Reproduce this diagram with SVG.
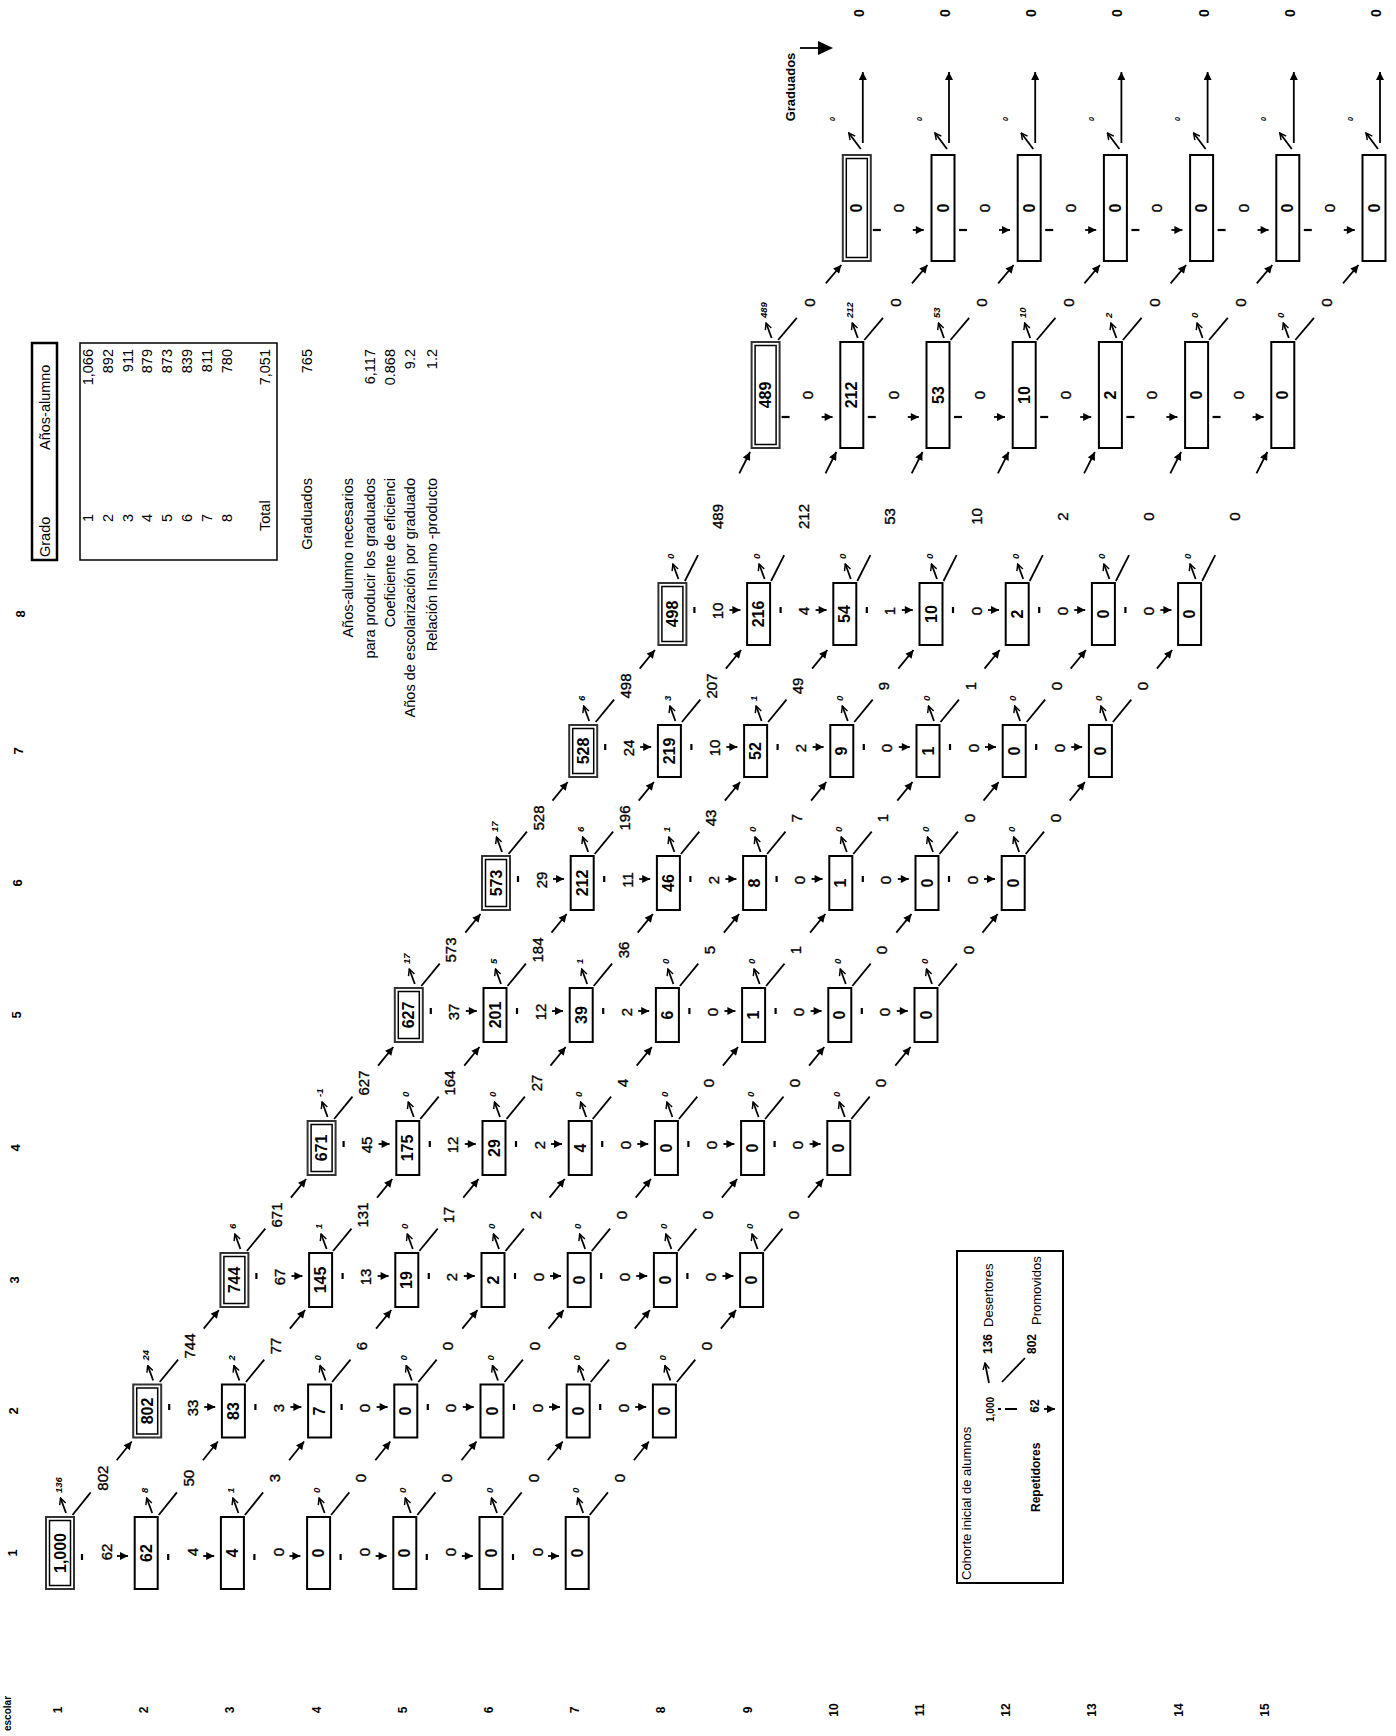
<svg xmlns="http://www.w3.org/2000/svg" width="1396" height="1736" viewBox="0 0 1396 1736">
<style>
text{font-family:'Liberation Sans',Arial,sans-serif;fill:#000}
.v{font-size:16px;font-weight:bold;text-anchor:middle;dominant-baseline:central}
.f{font-size:15px;text-anchor:middle;dominant-baseline:central;stroke:#000;stroke-width:0.35px}
.d{font-size:9.5px;font-style:italic;font-weight:bold;dominant-baseline:central}
.dm{font-size:7px;font-style:italic;font-weight:bold;text-anchor:middle;dominant-baseline:central}
.g{font-size:14px;font-weight:bold;text-anchor:middle;dominant-baseline:central}
.y{font-size:12px;font-weight:bold;text-anchor:middle;dominant-baseline:central}
.t{font-size:14.5px;dominant-baseline:central}
.te{font-size:14.5px;text-anchor:end;dominant-baseline:central}
.tm{font-size:14.5px;text-anchor:middle;dominant-baseline:central}
.bx{fill:#fff;stroke:#000;stroke-width:2}
.bo{fill:#fff;stroke:#333;stroke-width:2}
.bi{fill:none;stroke:#000;stroke-width:1.5}
.ln{fill:none;stroke:#000;stroke-width:1.8}
.tk{fill:none;stroke:#000;stroke-width:2.2}
</style>
<defs>
<marker id="ah" viewBox="0 0 10 10" refX="10" refY="5" markerWidth="9" markerHeight="8" markerUnits="userSpaceOnUse" orient="auto"><path d="M0,0L10,5L0,10z"/></marker>
<marker id="oh" viewBox="0 0 10 10" refX="9" refY="5" markerWidth="8" markerHeight="8" markerUnits="userSpaceOnUse" orient="auto"><path d="M1,1L9,5L1,9" fill="none" stroke="#000" stroke-width="1.8"/></marker>
<rect id="s36" class="bx" x="-11.5" y="-36" width="23" height="72"/>
<g id="w36"><rect class="bo" x="-14" y="-36" width="28" height="72"/><rect class="bi" x="-10.5" y="-32.5" width="21" height="65"/></g>
<rect id="s265" class="bx" x="-11.5" y="-26.5" width="23" height="53"/>
<g id="w265"><rect class="bo" x="-14" y="-26.5" width="28" height="53"/><rect class="bi" x="-10.5" y="-23" width="21" height="46"/></g>
<rect id="s27" class="bx" x="-11.5" y="-27" width="23" height="54"/>
<g id="w27"><rect class="bo" x="-14" y="-27" width="28" height="54"/><rect class="bi" x="-10.5" y="-23.5" width="21" height="47"/></g>
<rect id="s26" class="bx" x="-11.5" y="-26" width="23" height="52"/>
<g id="w26"><rect class="bo" x="-14" y="-26" width="28" height="52"/><rect class="bi" x="-10.5" y="-22.5" width="21" height="45"/></g>
<rect id="s31" class="bx" x="-11.5" y="-31" width="23" height="62"/>
<g id="w31"><rect class="bo" x="-14" y="-31" width="28" height="62"/><rect class="bi" x="-10.5" y="-27.5" width="21" height="55"/></g>
<rect id="s53" class="bx" x="-11.5" y="-53" width="23" height="106"/>
<g id="w53"><rect class="bo" x="-14" y="-53" width="28" height="106"/><rect class="bi" x="-10.5" y="-49.5" width="21" height="99"/></g>
<path id="dr" class="ln" d="M6,-4L0.5,-19" marker-end="url(#oh)"/>
<path id="drT" class="ln" d="M4,-6L-8,-22" marker-end="url(#oh)"/>
<g id="r1"><path class="tk" d="M22,1v6"/><path class="ln" d="M57,3H68" marker-end="url(#ah)"/></g>
<g id="r"><path class="tk" d="M22,-7v6"/><path class="ln" d="M57,-4H68" marker-end="url(#ah)"/></g>
<g id="rR"><path class="tk" d="M16,22H24"/><path class="ln" d="M56,22H67" marker-end="url(#ah)"/></g>
<g id="p1"><path class="ln" d="M12.5,-38L30.7,-60.6"/><path class="ln" d="M56.7,-92.8L71.7,-111.5" marker-end="url(#ah)"/></g>
<g id="ps"><path class="ln" d="M12.5,-29L30.9,-51.4"/><path class="ln" d="M56.5,-82.4L71.7,-101" marker-end="url(#ah)"/></g>
<g id="p8"><path class="ln" d="M12.5,-33L25.6,-58.9"/><path class="ln" d="M66.9,-140.6L77.7,-162" marker-end="url(#ah)"/></g>
<g id="pg"><path class="ln" d="M12.5,-55L31.2,-77.2"/><path class="ln" d="M60.2,-111.6L75.7,-130" marker-end="url(#ah)"/></g>
<path id="up" class="ln" d="M6,-65V-136" marker-end="url(#ah)"/>
<g id="k1"><use href="#dr" y="-36"/><use href="#r1"/><use href="#p1"/></g>
<g id="k1e"><use href="#dr" y="-36"/><use href="#p1"/></g>
<g id="k2"><use href="#dr" y="-26.5"/><use href="#r"/><use href="#ps"/></g>
<g id="k2e"><use href="#dr" y="-26.5"/><use href="#ps"/></g>
<g id="k3"><use href="#dr" y="-27"/><use href="#r"/><use href="#ps"/></g>
<g id="k3e"><use href="#dr" y="-27"/><use href="#ps"/></g>
<g id="k7"><use href="#dr" y="-26"/><use href="#r"/><use href="#ps"/></g>
<g id="k7e"><use href="#dr" y="-26"/><use href="#ps"/></g>
<g id="k8"><use href="#dr" y="-31"/><use href="#r"/><use href="#p8"/></g>
<g id="k8e"><use href="#dr" y="-31"/><use href="#p8"/></g>
<g id="kR"><use href="#dr" y="-53"/><use href="#rR"/><use href="#pg"/></g>
<g id="kRe"><use href="#dr" y="-53"/><use href="#pg"/></g>
<g id="kT"><use href="#drT" y="-53"/><use href="#rR"/><use href="#up"/></g>
<g id="kTe"><use href="#drT" y="-53"/><use href="#up"/></g>
</defs>
<rect width="1396" height="1736" fill="#fff"/>

<g id="nodes">
<g transform="translate(2,0)">
<g id="n1-1" transform="translate(58,1553)"><use href="#w36"/><text class="v" transform="rotate(-90)">1,000</text></g>
<g id="n1-2" transform="translate(144.2,1553)"><use href="#s36"/><text class="v" transform="rotate(-90)">62</text></g>
<g id="n1-3" transform="translate(230.4,1553)"><use href="#s36"/><text class="v" transform="rotate(-90)">4</text></g>
<g id="n1-4" transform="translate(316.6,1553)"><use href="#s36"/><text class="v" transform="rotate(-90)">0</text></g>
<g id="n1-5" transform="translate(402.8,1553)"><use href="#s36"/><text class="v" transform="rotate(-90)">0</text></g>
<g id="n1-6" transform="translate(489,1553)"><use href="#s36"/><text class="v" transform="rotate(-90)">0</text></g>
<g id="n1-7" transform="translate(575.2,1553)"><use href="#s36"/><text class="v" transform="rotate(-90)">0</text></g>
</g>
<g transform="translate(3,0)">
<g id="n2-2" transform="translate(144.2,1411)"><use href="#w265"/><text class="v" transform="rotate(-90)">802</text></g>
<g id="n2-3" transform="translate(230.4,1411)"><use href="#s265"/><text class="v" transform="rotate(-90)">83</text></g>
<g id="n2-4" transform="translate(316.6,1411)"><use href="#s265"/><text class="v" transform="rotate(-90)">7</text></g>
<g id="n2-5" transform="translate(402.8,1411)"><use href="#s265"/><text class="v" transform="rotate(-90)">0</text></g>
<g id="n2-6" transform="translate(489,1411)"><use href="#s265"/><text class="v" transform="rotate(-90)">0</text></g>
<g id="n2-7" transform="translate(575.2,1411)"><use href="#s265"/><text class="v" transform="rotate(-90)">0</text></g>
<g id="n2-8" transform="translate(661.4,1411)"><use href="#s265"/><text class="v" transform="rotate(-90)">0</text></g>
</g>
<g transform="translate(4,0)">
<g id="n3-3" transform="translate(230.4,1280)"><use href="#w27"/><text class="v" transform="rotate(-90)">744</text></g>
<g id="n3-4" transform="translate(316.6,1280)"><use href="#s27"/><text class="v" transform="rotate(-90)">145</text></g>
<g id="n3-5" transform="translate(402.8,1280)"><use href="#s27"/><text class="v" transform="rotate(-90)">19</text></g>
<g id="n3-6" transform="translate(489,1280)"><use href="#s27"/><text class="v" transform="rotate(-90)">2</text></g>
<g id="n3-7" transform="translate(575.2,1280)"><use href="#s27"/><text class="v" transform="rotate(-90)">0</text></g>
<g id="n3-8" transform="translate(661.4,1280)"><use href="#s27"/><text class="v" transform="rotate(-90)">0</text></g>
<g id="n3-9" transform="translate(747.6,1280)"><use href="#s27"/><text class="v" transform="rotate(-90)">0</text></g>
</g>
<g transform="translate(5,0)">
<g id="n4-4" transform="translate(316.6,1148)"><use href="#w27"/><text class="v" transform="rotate(-90)">671</text></g>
<g id="n4-5" transform="translate(402.8,1148)"><use href="#s27"/><text class="v" transform="rotate(-90)">175</text></g>
<g id="n4-6" transform="translate(489,1148)"><use href="#s27"/><text class="v" transform="rotate(-90)">29</text></g>
<g id="n4-7" transform="translate(575.2,1148)"><use href="#s27"/><text class="v" transform="rotate(-90)">4</text></g>
<g id="n4-8" transform="translate(661.4,1148)"><use href="#s27"/><text class="v" transform="rotate(-90)">0</text></g>
<g id="n4-9" transform="translate(747.6,1148)"><use href="#s27"/><text class="v" transform="rotate(-90)">0</text></g>
<g id="n4-10" transform="translate(833.8,1148)"><use href="#s27"/><text class="v" transform="rotate(-90)">0</text></g>
</g>
<g transform="translate(6,0)">
<g id="n5-5" transform="translate(402.8,1015)"><use href="#w27"/><text class="v" transform="rotate(-90)">627</text></g>
<g id="n5-6" transform="translate(489,1015)"><use href="#s27"/><text class="v" transform="rotate(-90)">201</text></g>
<g id="n5-7" transform="translate(575.2,1015)"><use href="#s27"/><text class="v" transform="rotate(-90)">39</text></g>
<g id="n5-8" transform="translate(661.4,1015)"><use href="#s27"/><text class="v" transform="rotate(-90)">6</text></g>
<g id="n5-9" transform="translate(747.6,1015)"><use href="#s27"/><text class="v" transform="rotate(-90)">1</text></g>
<g id="n5-10" transform="translate(833.8,1015)"><use href="#s27"/><text class="v" transform="rotate(-90)">0</text></g>
<g id="n5-11" transform="translate(920,1015)"><use href="#s27"/><text class="v" transform="rotate(-90)">0</text></g>
</g>
<g transform="translate(7,0)">
<g id="n6-6" transform="translate(489,883)"><use href="#w27"/><text class="v" transform="rotate(-90)">573</text></g>
<g id="n6-7" transform="translate(575.2,883)"><use href="#s27"/><text class="v" transform="rotate(-90)">212</text></g>
<g id="n6-8" transform="translate(661.4,883)"><use href="#s27"/><text class="v" transform="rotate(-90)">46</text></g>
<g id="n6-9" transform="translate(747.6,883)"><use href="#s27"/><text class="v" transform="rotate(-90)">8</text></g>
<g id="n6-10" transform="translate(833.8,883)"><use href="#s27"/><text class="v" transform="rotate(-90)">1</text></g>
<g id="n6-11" transform="translate(920,883)"><use href="#s27"/><text class="v" transform="rotate(-90)">0</text></g>
<g id="n6-12" transform="translate(1006.2,883)"><use href="#s27"/><text class="v" transform="rotate(-90)">0</text></g>
</g>
<g transform="translate(8,0)">
<g id="n7-7" transform="translate(575.2,751)"><use href="#w26"/><text class="v" transform="rotate(-90)">528</text></g>
<g id="n7-8" transform="translate(661.4,751)"><use href="#s26"/><text class="v" transform="rotate(-90)">219</text></g>
<g id="n7-9" transform="translate(747.6,751)"><use href="#s26"/><text class="v" transform="rotate(-90)">52</text></g>
<g id="n7-10" transform="translate(833.8,751)"><use href="#s26"/><text class="v" transform="rotate(-90)">9</text></g>
<g id="n7-11" transform="translate(920,751)"><use href="#s26"/><text class="v" transform="rotate(-90)">1</text></g>
<g id="n7-12" transform="translate(1006.2,751)"><use href="#s26"/><text class="v" transform="rotate(-90)">0</text></g>
<g id="n7-13" transform="translate(1092.4,751)"><use href="#s26"/><text class="v" transform="rotate(-90)">0</text></g>
</g>
<g transform="translate(11,0)">
<g id="n8-8" transform="translate(661.4,614)"><use href="#w31"/><text class="v" transform="rotate(-90)">498</text></g>
<g id="n8-9" transform="translate(747.6,614)"><use href="#s31"/><text class="v" transform="rotate(-90)">216</text></g>
<g id="n8-10" transform="translate(833.8,614)"><use href="#s31"/><text class="v" transform="rotate(-90)">54</text></g>
<g id="n8-11" transform="translate(920,614)"><use href="#s31"/><text class="v" transform="rotate(-90)">10</text></g>
<g id="n8-12" transform="translate(1006.2,614)"><use href="#s31"/><text class="v" transform="rotate(-90)">2</text></g>
<g id="n8-13" transform="translate(1092.4,614)"><use href="#s31"/><text class="v" transform="rotate(-90)">0</text></g>
<g id="n8-14" transform="translate(1178.6,614)"><use href="#s31"/><text class="v" transform="rotate(-90)">0</text></g>
</g>
<g transform="translate(18,0)">
<g id="nR-9" transform="translate(747.6,395)"><use href="#w53"/><text class="v" transform="rotate(-90)">489</text></g>
<g id="nR-10" transform="translate(833.8,395)"><use href="#s53"/><text class="v" transform="rotate(-90)">212</text></g>
<g id="nR-11" transform="translate(920,395)"><use href="#s53"/><text class="v" transform="rotate(-90)">53</text></g>
<g id="nR-12" transform="translate(1006.2,395)"><use href="#s53"/><text class="v" transform="rotate(-90)">10</text></g>
<g id="nR-13" transform="translate(1092.4,395)"><use href="#s53"/><text class="v" transform="rotate(-90)">2</text></g>
<g id="nR-14" transform="translate(1178.6,395)"><use href="#s53"/><text class="v" transform="rotate(-90)">0</text></g>
<g id="nR-15" transform="translate(1264.8,395)"><use href="#s53"/><text class="v" transform="rotate(-90)">0</text></g>
</g>
<g transform="translate(23,0)">
<g id="nT-10" transform="translate(833.8,208)"><use href="#w53"/><text class="v" transform="rotate(-90)">0</text></g>
<g id="nT-11" transform="translate(920,208)"><use href="#s53"/><text class="v" transform="rotate(-90)">0</text></g>
<g id="nT-12" transform="translate(1006.2,208)"><use href="#s53"/><text class="v" transform="rotate(-90)">0</text></g>
<g id="nT-13" transform="translate(1092.4,208)"><use href="#s53"/><text class="v" transform="rotate(-90)">0</text></g>
<g id="nT-14" transform="translate(1178.6,208)"><use href="#s53"/><text class="v" transform="rotate(-90)">0</text></g>
<g id="nT-15" transform="translate(1264.8,208)"><use href="#s53"/><text class="v" transform="rotate(-90)">0</text></g>
<g id="nT-16" transform="translate(1351,208)"><use href="#s53"/><text class="v" transform="rotate(-90)">0</text></g>
</g>
</g>

<g id="connectors">
<g transform="translate(2,0)">
<g transform="translate(58,1553)"><use href="#k1"/><text class="d" transform="translate(-2,-60)rotate(-90)">136</text><text class="f" transform="translate(46,-1)rotate(-90)">62</text><text class="f" transform="translate(42.1,-74.8)rotate(-90)">802</text></g>
<g transform="translate(144.2,1553)"><use href="#k1"/><text class="d" transform="translate(-2,-60)rotate(-90)">8</text><text class="f" transform="translate(46,-1)rotate(-90)">4</text><text class="f" transform="translate(42.1,-74.8)rotate(-90)">50</text></g>
<g transform="translate(230.4,1553)"><use href="#k1"/><text class="d" transform="translate(-2,-60)rotate(-90)">1</text><text class="f" transform="translate(46,-1)rotate(-90)">0</text><text class="f" transform="translate(42.1,-74.8)rotate(-90)">3</text></g>
<g transform="translate(316.6,1553)"><use href="#k1"/><text class="d" transform="translate(-2,-60)rotate(-90)">0</text><text class="f" transform="translate(46,-1)rotate(-90)">0</text><text class="f" transform="translate(42.1,-74.8)rotate(-90)">0</text></g>
<g transform="translate(402.8,1553)"><use href="#k1"/><text class="d" transform="translate(-2,-60)rotate(-90)">0</text><text class="f" transform="translate(46,-1)rotate(-90)">0</text><text class="f" transform="translate(42.1,-74.8)rotate(-90)">0</text></g>
<g transform="translate(489,1553)"><use href="#k1"/><text class="d" transform="translate(-2,-60)rotate(-90)">0</text><text class="f" transform="translate(46,-1)rotate(-90)">0</text><text class="f" transform="translate(42.1,-74.8)rotate(-90)">0</text></g>
<g transform="translate(575.2,1553)"><use href="#k1e"/><text class="d" transform="translate(-2,-60)rotate(-90)">0</text><text class="f" transform="translate(42.1,-74.8)rotate(-90)">0</text></g>
</g>
<g transform="translate(3,0)">
<g transform="translate(144.2,1411)"><use href="#k2"/><text class="d" transform="translate(-2,-50.5)rotate(-90)">24</text><text class="f" transform="translate(45,-3)rotate(-90)">33</text><text class="f" transform="translate(42.1,-65)rotate(-90)">744</text></g>
<g transform="translate(230.4,1411)"><use href="#k2"/><text class="d" transform="translate(-2,-50.5)rotate(-90)">2</text><text class="f" transform="translate(45,-3)rotate(-90)">3</text><text class="f" transform="translate(42.1,-65)rotate(-90)">77</text></g>
<g transform="translate(316.6,1411)"><use href="#k2"/><text class="d" transform="translate(-2,-50.5)rotate(-90)">0</text><text class="f" transform="translate(45,-3)rotate(-90)">0</text><text class="f" transform="translate(42.1,-65)rotate(-90)">6</text></g>
<g transform="translate(402.8,1411)"><use href="#k2"/><text class="d" transform="translate(-2,-50.5)rotate(-90)">0</text><text class="f" transform="translate(45,-3)rotate(-90)">0</text><text class="f" transform="translate(42.1,-65)rotate(-90)">0</text></g>
<g transform="translate(489,1411)"><use href="#k2"/><text class="d" transform="translate(-2,-50.5)rotate(-90)">0</text><text class="f" transform="translate(45,-3)rotate(-90)">0</text><text class="f" transform="translate(42.1,-65)rotate(-90)">0</text></g>
<g transform="translate(575.2,1411)"><use href="#k2"/><text class="d" transform="translate(-2,-50.5)rotate(-90)">0</text><text class="f" transform="translate(45,-3)rotate(-90)">0</text><text class="f" transform="translate(42.1,-65)rotate(-90)">0</text></g>
<g transform="translate(661.4,1411)"><use href="#k2e"/><text class="d" transform="translate(-2,-50.5)rotate(-90)">0</text><text class="f" transform="translate(42.1,-65)rotate(-90)">0</text></g>
</g>
<g transform="translate(4,0)">
<g transform="translate(230.4,1280)"><use href="#k3"/><text class="d" transform="translate(-2,-51)rotate(-90)">6</text><text class="f" transform="translate(45,-3)rotate(-90)">67</text><text class="f" transform="translate(42.1,-65)rotate(-90)">671</text></g>
<g transform="translate(316.6,1280)"><use href="#k3"/><text class="d" transform="translate(-2,-51)rotate(-90)">1</text><text class="f" transform="translate(45,-3)rotate(-90)">13</text><text class="f" transform="translate(42.1,-65)rotate(-90)">131</text></g>
<g transform="translate(402.8,1280)"><use href="#k3"/><text class="d" transform="translate(-2,-51)rotate(-90)">0</text><text class="f" transform="translate(45,-3)rotate(-90)">2</text><text class="f" transform="translate(42.1,-65)rotate(-90)">17</text></g>
<g transform="translate(489,1280)"><use href="#k3"/><text class="d" transform="translate(-2,-51)rotate(-90)">0</text><text class="f" transform="translate(45,-3)rotate(-90)">0</text><text class="f" transform="translate(42.1,-65)rotate(-90)">2</text></g>
<g transform="translate(575.2,1280)"><use href="#k3"/><text class="d" transform="translate(-2,-51)rotate(-90)">0</text><text class="f" transform="translate(45,-3)rotate(-90)">0</text><text class="f" transform="translate(42.1,-65)rotate(-90)">0</text></g>
<g transform="translate(661.4,1280)"><use href="#k3"/><text class="d" transform="translate(-2,-51)rotate(-90)">0</text><text class="f" transform="translate(45,-3)rotate(-90)">0</text><text class="f" transform="translate(42.1,-65)rotate(-90)">0</text></g>
<g transform="translate(747.6,1280)"><use href="#k3e"/><text class="d" transform="translate(-2,-51)rotate(-90)">0</text><text class="f" transform="translate(42.1,-65)rotate(-90)">0</text></g>
</g>
<g transform="translate(5,0)">
<g transform="translate(316.6,1148)"><use href="#k3"/><text class="d" transform="translate(-2,-51)rotate(-90)">-1</text><text class="f" transform="translate(45,-3)rotate(-90)">45</text><text class="f" transform="translate(42.1,-65)rotate(-90)">627</text></g>
<g transform="translate(402.8,1148)"><use href="#k3"/><text class="d" transform="translate(-2,-51)rotate(-90)">0</text><text class="f" transform="translate(45,-3)rotate(-90)">12</text><text class="f" transform="translate(42.1,-65)rotate(-90)">164</text></g>
<g transform="translate(489,1148)"><use href="#k3"/><text class="d" transform="translate(-2,-51)rotate(-90)">0</text><text class="f" transform="translate(45,-3)rotate(-90)">2</text><text class="f" transform="translate(42.1,-65)rotate(-90)">27</text></g>
<g transform="translate(575.2,1148)"><use href="#k3"/><text class="d" transform="translate(-2,-51)rotate(-90)">0</text><text class="f" transform="translate(45,-3)rotate(-90)">0</text><text class="f" transform="translate(42.1,-65)rotate(-90)">4</text></g>
<g transform="translate(661.4,1148)"><use href="#k3"/><text class="d" transform="translate(-2,-51)rotate(-90)">0</text><text class="f" transform="translate(45,-3)rotate(-90)">0</text><text class="f" transform="translate(42.1,-65)rotate(-90)">0</text></g>
<g transform="translate(747.6,1148)"><use href="#k3"/><text class="d" transform="translate(-2,-51)rotate(-90)">0</text><text class="f" transform="translate(45,-3)rotate(-90)">0</text><text class="f" transform="translate(42.1,-65)rotate(-90)">0</text></g>
<g transform="translate(833.8,1148)"><use href="#k3e"/><text class="d" transform="translate(-2,-51)rotate(-90)">0</text><text class="f" transform="translate(42.1,-65)rotate(-90)">0</text></g>
</g>
<g transform="translate(6,0)">
<g transform="translate(402.8,1015)"><use href="#k3"/><text class="d" transform="translate(-2,-51)rotate(-90)">17</text><text class="f" transform="translate(45,-3)rotate(-90)">37</text><text class="f" transform="translate(42.1,-65)rotate(-90)">573</text></g>
<g transform="translate(489,1015)"><use href="#k3"/><text class="d" transform="translate(-2,-51)rotate(-90)">5</text><text class="f" transform="translate(45,-3)rotate(-90)">12</text><text class="f" transform="translate(42.1,-65)rotate(-90)">184</text></g>
<g transform="translate(575.2,1015)"><use href="#k3"/><text class="d" transform="translate(-2,-51)rotate(-90)">1</text><text class="f" transform="translate(45,-3)rotate(-90)">2</text><text class="f" transform="translate(42.1,-65)rotate(-90)">36</text></g>
<g transform="translate(661.4,1015)"><use href="#k3"/><text class="d" transform="translate(-2,-51)rotate(-90)">0</text><text class="f" transform="translate(45,-3)rotate(-90)">0</text><text class="f" transform="translate(42.1,-65)rotate(-90)">5</text></g>
<g transform="translate(747.6,1015)"><use href="#k3"/><text class="d" transform="translate(-2,-51)rotate(-90)">0</text><text class="f" transform="translate(45,-3)rotate(-90)">0</text><text class="f" transform="translate(42.1,-65)rotate(-90)">1</text></g>
<g transform="translate(833.8,1015)"><use href="#k3"/><text class="d" transform="translate(-2,-51)rotate(-90)">0</text><text class="f" transform="translate(45,-3)rotate(-90)">0</text><text class="f" transform="translate(42.1,-65)rotate(-90)">0</text></g>
<g transform="translate(920,1015)"><use href="#k3e"/><text class="d" transform="translate(-2,-51)rotate(-90)">0</text><text class="f" transform="translate(42.1,-65)rotate(-90)">0</text></g>
</g>
<g transform="translate(7,0)">
<g transform="translate(489,883)"><use href="#k3"/><text class="d" transform="translate(-2,-51)rotate(-90)">17</text><text class="f" transform="translate(45,-3)rotate(-90)">29</text><text class="f" transform="translate(42.1,-65)rotate(-90)">528</text></g>
<g transform="translate(575.2,883)"><use href="#k3"/><text class="d" transform="translate(-2,-51)rotate(-90)">6</text><text class="f" transform="translate(45,-3)rotate(-90)">11</text><text class="f" transform="translate(42.1,-65)rotate(-90)">196</text></g>
<g transform="translate(661.4,883)"><use href="#k3"/><text class="d" transform="translate(-2,-51)rotate(-90)">1</text><text class="f" transform="translate(45,-3)rotate(-90)">2</text><text class="f" transform="translate(42.1,-65)rotate(-90)">43</text></g>
<g transform="translate(747.6,883)"><use href="#k3"/><text class="d" transform="translate(-2,-51)rotate(-90)">0</text><text class="f" transform="translate(45,-3)rotate(-90)">0</text><text class="f" transform="translate(42.1,-65)rotate(-90)">7</text></g>
<g transform="translate(833.8,883)"><use href="#k3"/><text class="d" transform="translate(-2,-51)rotate(-90)">0</text><text class="f" transform="translate(45,-3)rotate(-90)">0</text><text class="f" transform="translate(42.1,-65)rotate(-90)">1</text></g>
<g transform="translate(920,883)"><use href="#k3"/><text class="d" transform="translate(-2,-51)rotate(-90)">0</text><text class="f" transform="translate(45,-3)rotate(-90)">0</text><text class="f" transform="translate(42.1,-65)rotate(-90)">0</text></g>
<g transform="translate(1006.2,883)"><use href="#k3e"/><text class="d" transform="translate(-2,-51)rotate(-90)">0</text><text class="f" transform="translate(42.1,-65)rotate(-90)">0</text></g>
</g>
<g transform="translate(8,0)">
<g transform="translate(575.2,751)"><use href="#k7"/><text class="d" transform="translate(-2,-50)rotate(-90)">6</text><text class="f" transform="translate(45,-3)rotate(-90)">24</text><text class="f" transform="translate(42.1,-65)rotate(-90)">498</text></g>
<g transform="translate(661.4,751)"><use href="#k7"/><text class="d" transform="translate(-2,-50)rotate(-90)">3</text><text class="f" transform="translate(45,-3)rotate(-90)">10</text><text class="f" transform="translate(42.1,-65)rotate(-90)">207</text></g>
<g transform="translate(747.6,751)"><use href="#k7"/><text class="d" transform="translate(-2,-50)rotate(-90)">1</text><text class="f" transform="translate(45,-3)rotate(-90)">2</text><text class="f" transform="translate(42.1,-65)rotate(-90)">49</text></g>
<g transform="translate(833.8,751)"><use href="#k7"/><text class="d" transform="translate(-2,-50)rotate(-90)">0</text><text class="f" transform="translate(45,-3)rotate(-90)">0</text><text class="f" transform="translate(42.1,-65)rotate(-90)">9</text></g>
<g transform="translate(920,751)"><use href="#k7"/><text class="d" transform="translate(-2,-50)rotate(-90)">0</text><text class="f" transform="translate(45,-3)rotate(-90)">0</text><text class="f" transform="translate(42.1,-65)rotate(-90)">1</text></g>
<g transform="translate(1006.2,751)"><use href="#k7"/><text class="d" transform="translate(-2,-50)rotate(-90)">0</text><text class="f" transform="translate(45,-3)rotate(-90)">0</text><text class="f" transform="translate(42.1,-65)rotate(-90)">0</text></g>
<g transform="translate(1092.4,751)"><use href="#k7e"/><text class="d" transform="translate(-2,-50)rotate(-90)">0</text><text class="f" transform="translate(42.1,-65)rotate(-90)">0</text></g>
</g>
<g transform="translate(11,0)">
<g transform="translate(661.4,614)"><use href="#k8"/><text class="d" transform="translate(-2,-55)rotate(-90)">0</text><text class="f" transform="translate(45,-3)rotate(-90)">10</text><text class="f" transform="translate(45.1,-97.5)rotate(-90)">489</text></g>
<g transform="translate(747.6,614)"><use href="#k8"/><text class="d" transform="translate(-2,-55)rotate(-90)">0</text><text class="f" transform="translate(45,-3)rotate(-90)">4</text><text class="f" transform="translate(45.1,-97.5)rotate(-90)">212</text></g>
<g transform="translate(833.8,614)"><use href="#k8"/><text class="d" transform="translate(-2,-55)rotate(-90)">0</text><text class="f" transform="translate(45,-3)rotate(-90)">1</text><text class="f" transform="translate(45.1,-97.5)rotate(-90)">53</text></g>
<g transform="translate(920,614)"><use href="#k8"/><text class="d" transform="translate(-2,-55)rotate(-90)">0</text><text class="f" transform="translate(45,-3)rotate(-90)">0</text><text class="f" transform="translate(45.1,-97.5)rotate(-90)">10</text></g>
<g transform="translate(1006.2,614)"><use href="#k8"/><text class="d" transform="translate(-2,-55)rotate(-90)">0</text><text class="f" transform="translate(45,-3)rotate(-90)">0</text><text class="f" transform="translate(45.1,-97.5)rotate(-90)">2</text></g>
<g transform="translate(1092.4,614)"><use href="#k8"/><text class="d" transform="translate(-2,-55)rotate(-90)">0</text><text class="f" transform="translate(45,-3)rotate(-90)">0</text><text class="f" transform="translate(45.1,-97.5)rotate(-90)">0</text></g>
<g transform="translate(1178.6,614)"><use href="#k8e"/><text class="d" transform="translate(-2,-55)rotate(-90)">0</text><text class="f" transform="translate(45.1,-97.5)rotate(-90)">0</text></g>
</g>
<g transform="translate(18,0)">
<g transform="translate(747.6,395)"><use href="#kR"/><text class="d" transform="translate(-2,-77)rotate(-90)">489</text><text class="f" transform="translate(41.5,0)rotate(-90)">0</text><text class="f" transform="translate(43.9,-92.5)rotate(-90)">0</text></g>
<g transform="translate(833.8,395)"><use href="#kR"/><text class="d" transform="translate(-2,-77)rotate(-90)">212</text><text class="f" transform="translate(41.5,0)rotate(-90)">0</text><text class="f" transform="translate(43.9,-92.5)rotate(-90)">0</text></g>
<g transform="translate(920,395)"><use href="#kR"/><text class="d" transform="translate(-2,-77)rotate(-90)">53</text><text class="f" transform="translate(41.5,0)rotate(-90)">0</text><text class="f" transform="translate(43.9,-92.5)rotate(-90)">0</text></g>
<g transform="translate(1006.2,395)"><use href="#kR"/><text class="d" transform="translate(-2,-77)rotate(-90)">10</text><text class="f" transform="translate(41.5,0)rotate(-90)">0</text><text class="f" transform="translate(43.9,-92.5)rotate(-90)">0</text></g>
<g transform="translate(1092.4,395)"><use href="#kR"/><text class="d" transform="translate(-2,-77)rotate(-90)">2</text><text class="f" transform="translate(41.5,0)rotate(-90)">0</text><text class="f" transform="translate(43.9,-92.5)rotate(-90)">0</text></g>
<g transform="translate(1178.6,395)"><use href="#kR"/><text class="d" transform="translate(-2,-77)rotate(-90)">0</text><text class="f" transform="translate(41.5,0)rotate(-90)">0</text><text class="f" transform="translate(43.9,-92.5)rotate(-90)">0</text></g>
<g transform="translate(1264.8,395)"><use href="#kRe"/><text class="d" transform="translate(-2,-77)rotate(-90)">0</text><text class="f" transform="translate(43.9,-92.5)rotate(-90)">0</text></g>
</g>
<g transform="translate(23,0)">
<g transform="translate(833.8,208)"><use href="#kT"/><text class="dm" transform="translate(-24,-89)rotate(-90)">0</text><text class="f" transform="translate(41.5,0)rotate(-90)">0</text><text class="g" transform="translate(2,-195)rotate(-90)">0</text></g>
<g transform="translate(920,208)"><use href="#kT"/><text class="dm" transform="translate(-24,-89)rotate(-90)">0</text><text class="f" transform="translate(41.5,0)rotate(-90)">0</text><text class="g" transform="translate(2,-195)rotate(-90)">0</text></g>
<g transform="translate(1006.2,208)"><use href="#kT"/><text class="dm" transform="translate(-24,-89)rotate(-90)">0</text><text class="f" transform="translate(41.5,0)rotate(-90)">0</text><text class="g" transform="translate(2,-195)rotate(-90)">0</text></g>
<g transform="translate(1092.4,208)"><use href="#kT"/><text class="dm" transform="translate(-24,-89)rotate(-90)">0</text><text class="f" transform="translate(41.5,0)rotate(-90)">0</text><text class="g" transform="translate(2,-195)rotate(-90)">0</text></g>
<g transform="translate(1178.6,208)"><use href="#kT"/><text class="dm" transform="translate(-24,-89)rotate(-90)">0</text><text class="f" transform="translate(41.5,0)rotate(-90)">0</text><text class="g" transform="translate(2,-195)rotate(-90)">0</text></g>
<g transform="translate(1264.8,208)"><use href="#kT"/><text class="dm" transform="translate(-24,-89)rotate(-90)">0</text><text class="f" transform="translate(41.5,0)rotate(-90)">0</text><text class="g" transform="translate(2,-195)rotate(-90)">0</text></g>
<g transform="translate(1351,208)"><use href="#kTe"/><text class="dm" transform="translate(-24,-89)rotate(-90)">0</text><text class="g" transform="translate(2,-195)rotate(-90)">0</text></g>
</g>
</g>

<g id="graduados-label">
<text class="g" style="font-size:13px" transform="translate(790,87)rotate(-90)">Graduados</text>
<path class="ln" d="M800,48H820" stroke-width="2"/>
<path d="M818,41L833,48L818,55z"/>
</g>

<g id="axis-labels">
<text class="g" style="font-size:13px" transform="translate(12,1553)rotate(-90)">1</text>
<text class="g" style="font-size:13px" transform="translate(13,1411)rotate(-90)">2</text>
<text class="g" style="font-size:13px" transform="translate(14,1280)rotate(-90)">3</text>
<text class="g" style="font-size:13px" transform="translate(15,1148)rotate(-90)">4</text>
<text class="g" style="font-size:13px" transform="translate(16,1015)rotate(-90)">5</text>
<text class="g" style="font-size:13px" transform="translate(17,883)rotate(-90)">6</text>
<text class="g" style="font-size:13px" transform="translate(18,751)rotate(-90)">7</text>
<text class="g" style="font-size:13px" transform="translate(20,614)rotate(-90)">8</text>
<text class="y" transform="translate(58,1710)rotate(-90)">1</text>
<text class="y" transform="translate(144.2,1710)rotate(-90)">2</text>
<text class="y" transform="translate(230.4,1710)rotate(-90)">3</text>
<text class="y" transform="translate(316.6,1710)rotate(-90)">4</text>
<text class="y" transform="translate(402.8,1710)rotate(-90)">5</text>
<text class="y" transform="translate(489,1710)rotate(-90)">6</text>
<text class="y" transform="translate(575.2,1710)rotate(-90)">7</text>
<text class="y" transform="translate(661.4,1710)rotate(-90)">8</text>
<text class="y" transform="translate(747.6,1710)rotate(-90)">9</text>
<text class="y" transform="translate(833.8,1710)rotate(-90)">10</text>
<text class="y" transform="translate(920,1710)rotate(-90)">11</text>
<text class="y" transform="translate(1006.2,1710)rotate(-90)">12</text>
<text class="y" transform="translate(1092.4,1710)rotate(-90)">13</text>
<text class="y" transform="translate(1178.6,1710)rotate(-90)">14</text>
<text class="y" transform="translate(1264.8,1710)rotate(-90)">15</text>
<text style="font-size:10px;font-weight:bold;dominant-baseline:central" transform="translate(7,1731)rotate(-90)">escolar</text>
</g>

<g id="table">
<rect x="32" y="343" width="25" height="217" fill="none" stroke="#000" stroke-width="2.5"/>
<text class="t" transform="translate(45,557)rotate(-90)">Grado</text>
<text class="t" transform="translate(45,450)rotate(-90)">Años-alumno</text>
<rect x="80" y="343" width="197" height="217" fill="none" stroke="#000" stroke-width="1.5"/>
<text class="tm" transform="translate(88,518)rotate(-90)">1</text>
<text class="tm" transform="translate(108,518)rotate(-90)">2</text>
<text class="tm" transform="translate(128,518)rotate(-90)">3</text>
<text class="tm" transform="translate(147,518)rotate(-90)">4</text>
<text class="tm" transform="translate(167,518)rotate(-90)">5</text>
<text class="tm" transform="translate(187,518)rotate(-90)">6</text>
<text class="tm" transform="translate(207,518)rotate(-90)">7</text>
<text class="tm" transform="translate(227,518)rotate(-90)">8</text>
<text class="t" transform="translate(265,531)rotate(-90)">Total</text>
<text class="te" transform="translate(88,349)rotate(-90)">1,066</text>
<text class="te" transform="translate(108,349)rotate(-90)">892</text>
<text class="te" transform="translate(128,349)rotate(-90)">911</text>
<text class="te" transform="translate(147,349)rotate(-90)">879</text>
<text class="te" transform="translate(167,349)rotate(-90)">873</text>
<text class="te" transform="translate(187,349)rotate(-90)">839</text>
<text class="te" transform="translate(207,349)rotate(-90)">811</text>
<text class="te" transform="translate(227,349)rotate(-90)">780</text>
<text class="te" transform="translate(265,349)rotate(-90)">7,051</text>
<text class="te" transform="translate(307,478)rotate(-90)">Graduados</text>
<text class="te" transform="translate(307,349)rotate(-90)">765</text>
<text class="te" transform="translate(348,478)rotate(-90)">Años-alumno necesarios</text>
<text class="te" transform="translate(370,478)rotate(-90)">para producir los graduados</text>
<text class="te" transform="translate(370,349)rotate(-90)">6,117</text>
<text class="te" transform="translate(390,478)rotate(-90)">Coeficiente de eficienci</text>
<text class="te" transform="translate(390,349)rotate(-90)">0.868</text>
<text class="te" transform="translate(410,478)rotate(-90)">Años de escolarización por graduado</text>
<text class="te" transform="translate(410,349)rotate(-90)">9.2</text>
<text class="te" transform="translate(432,478)rotate(-90)">Relación Insumo -producto</text>
<text class="te" transform="translate(432,349)rotate(-90)">1.2</text>
</g>

<g id="legend">
<rect x="957" y="1251" width="106" height="332" fill="#fff" stroke="#000" stroke-width="2"/>
<text style="font-size:13px;dominant-baseline:central" transform="translate(966,1580)rotate(-90)">Cohorte inicial de alumnos</text>
<text style="font-size:12px;font-weight:bold;dominant-baseline:central" transform="translate(1036,1512)rotate(-90)">Repetidores</text>
<text style="font-size:10px;font-weight:bold;dominant-baseline:central" transform="translate(990,1422)rotate(-90)">1,000</text>
<path class="tk" d="M998,1409h3M1005,1409h12"/>
<text style="font-size:12px;font-weight:bold;text-anchor:middle;dominant-baseline:central" transform="translate(1035,1406)rotate(-90)">62</text>
<path class="ln" d="M1044,1409H1055" marker-end="url(#ah)"/>
<path class="ln" d="M989,1383L985,1363" marker-end="url(#oh)"/>
<text style="font-size:12px;font-weight:bold;dominant-baseline:central" transform="translate(988,1354)rotate(-90)">136</text>
<text style="font-size:13px;dominant-baseline:central" transform="translate(988,1327)rotate(-90)">Desertores</text>
<path class="ln" d="M1002,1382L1025,1358"/>
<text style="font-size:12px;font-weight:bold;dominant-baseline:central" transform="translate(1032,1354)rotate(-90)">802</text>
<text style="font-size:13px;dominant-baseline:central" transform="translate(1036,1325)rotate(-90)">Promovidos</text>
</g>
</svg>
